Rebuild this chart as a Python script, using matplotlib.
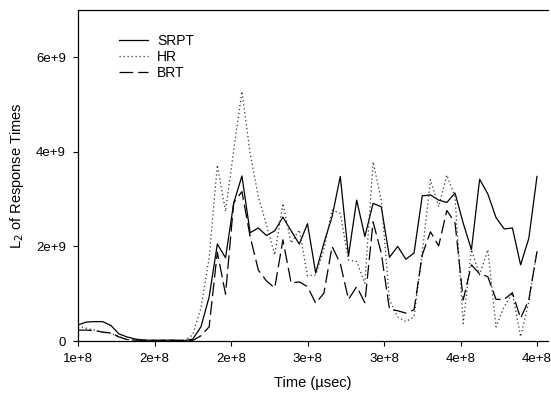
import numpy as np
import matplotlib
matplotlib.use("Agg")
import matplotlib.pyplot as plt

plt.rcParams['font.family'] = ['Liberation Sans', 'DejaVu Sans']

# Sample times (usec), 57 samples from 1e8 to 4e8
t_start, t_end, n_samples = 1.0e8, 4.0e8, 57
time_us = np.linspace(t_start, t_end, n_samples)

# L2 norm of response times, in units of 1e9
srpt = [0.34, 0.40, 0.41, 0.41, 0.33, 0.15, 0.085, 0.04, 0.02, 0.015,
        0.01, 0.017, 0.01, 0.01, 0.04, 0.30, 0.93, 2.05, 1.76, 2.92,
        3.49, 2.29, 2.39, 2.23, 2.33, 2.62, 2.33, 2.05, 2.48, 1.44,
        2.07, 2.63, 3.48, 1.80, 2.98, 2.21, 2.91, 2.84, 1.77, 2.00,
        1.73, 1.86, 3.07, 3.09, 2.98, 2.93, 3.13, 2.49, 1.93, 3.42,
        3.11, 2.61, 2.37, 2.39, 1.61, 2.17, 3.48]

hr = [0.32, 0.27, 0.23, 0.18, 0.16, 0.095, 0.03, 0.01, 0.01, 0.01,
      0.01, 0.02, 0.01, 0.01, 0.13, 0.70, 1.76, 3.72, 2.74, 4.04,
      5.28, 3.97, 3.05, 2.45, 1.82, 2.91, 2.07, 2.35, 1.38, 1.40,
      1.93, 2.77, 2.70, 1.71, 1.68, 1.22, 3.79, 2.98, 0.87, 0.51,
      0.41, 0.51, 1.86, 3.41, 2.84, 3.51, 3.05, 0.37, 1.93, 1.40,
      1.93, 0.30, 0.73, 1.01, 0.09, 0.83, 1.92]

brt = [0.23, 0.23, 0.22, 0.19, 0.17, 0.085, 0.03, 0.02, 0.015, 0.015,
       0.015, 0.02, 0.015, 0.015, 0.01, 0.11, 0.30, 1.88, 0.99, 2.93,
       3.16, 2.21, 1.50, 1.27, 1.12, 2.14, 1.23, 1.25, 1.15, 0.80,
       1.01, 2.00, 1.64, 0.88, 1.15, 0.81, 2.52, 1.86, 0.67, 0.64,
       0.59, 0.66, 1.82, 2.31, 2.01, 2.76, 2.50, 0.87, 1.61, 1.42,
       1.36, 0.88, 0.88, 1.02, 0.48, 0.87, 1.89]

series_names = ["SRPT", "HR", "BRT"]

x_ticks = [1.0e8, 1.5e8, 2.0e8, 2.5e8, 3.0e8, 3.5e8, 4.0e8]
x_tick_labels = ["1e+8", "2e+8", "2e+8", "3e+8", "3e+8", "4e+8", "4e+8"]
y_ticks = [0, 2e9, 4e9, 6e9]
y_tick_labels = ["0", "2e+9", "4e+9", "6e+9"]

fig = plt.figure(figsize=(5.51, 4.01), dpi=100)
W, H = 551, 401
left_px, right_px, top_px, bottom_px = 78, 548, 10, 341
ax = fig.add_axes([left_px / W, 1 - bottom_px / H,
                   (right_px - left_px) / W, (bottom_px - top_px) / H])

scale = 1e9
lw = 0.9
ax.plot(time_us, np.array(srpt) * scale, color="black", lw=lw,
        linestyle="-", label=series_names[0])
ax.plot(time_us, np.array(hr) * scale, color="#333333", lw=lw,
        linestyle=(0, (1, 2.2)), label=series_names[1])
ax.plot(time_us, np.array(brt) * scale, color="black", lw=lw,
        linestyle=(0, (11, 4)), label=series_names[2])

ax.set_xlim(1.0e8, 1.0e8 + (right_px - left_px) / 153.0 * 1e8)
ax.set_ylim(0, 7.0e9)

ax.set_xticks(x_ticks)
ax.set_xticklabels(x_tick_labels)
ax.set_yticks(y_ticks)
ax.set_yticklabels(y_tick_labels)

ax.tick_params(axis="both", direction="out", length=3.6, width=0.8,
               labelsize=9.5)
ax.tick_params(axis="x", pad=5)
ax.tick_params(axis="y", pad=5)

for side in ("left", "bottom", "top"):
    ax.spines[side].set_linewidth(0.9)
ax.spines["right"].set_visible(False)

ax.set_xlabel("Time (\u00b5sec)", fontsize=10.5, labelpad=8)
ax.set_ylabel("L$_2$ of Response Times", fontsize=10.5, labelpad=7)

leg = ax.legend(loc="upper left", bbox_to_anchor=(119 / W, 1 - 34 / H),
                bbox_transform=fig.transFigure, frameon=False, fontsize=10,
                handlelength=2.1, handletextpad=0.65, labelspacing=0.15,
                borderpad=0, borderaxespad=0)

fig.savefig("out.png", dpi=100)
